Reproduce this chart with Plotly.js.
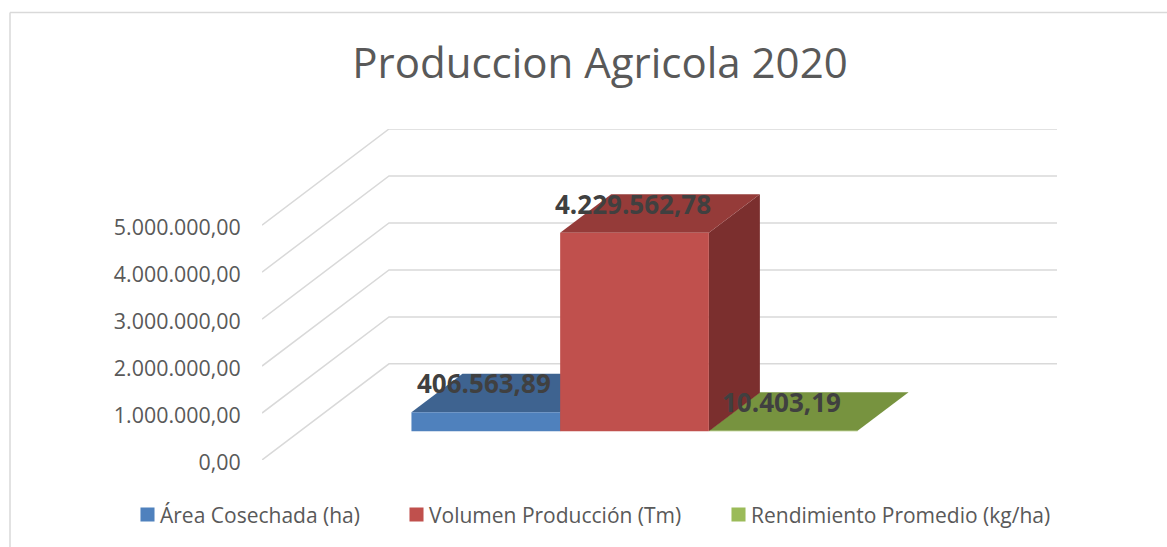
<!DOCTYPE html>
<html>
<head>
<meta charset="utf-8">
<script src="https://cdn.plot.ly/plotly-3.0.1.min.js"></script>
<style>html,body{margin:0;padding:0;background:#fff;overflow:hidden}#chart{width:1167px;height:547px}</style>
</head>
<body>
<div id="chart"></div>
<script>
const seriesNames = ['Área Cosechada (ha)', 'Volumen Producción (Tm)', 'Rendimiento Promedio (kg/ha)'];
const seriesValues = [406563.89, 4229562.78, 10403.19];
const valueLabels = ['406.563,89', '4.229.562,78', '10.403,19'];
const tickValues = [0, 1000000, 2000000, 3000000, 4000000, 5000000];
const tickLabels = ['0,00', '1.000.000,00', '2.000.000,00', '3.000.000,00', '4.000.000,00', '5.000.000,00'];
const frontColors = ['#4f81bd', '#c0504d', '#9bbb59'];
const topColors = ['#3e6390', '#953b39', '#77933f'];
const sideColors = ['#2f4b6e', '#7b2f2e', '#5b7030'];
const legendKeys = ['legend', 'legend2', 'legend3'];
const legendLeft = [120, 389, 711];

// oblique projection settings, in axis units
const xMax = 5.346, yMax = 7047000;
const wallDX = 0.854, wallDY = 2047000;   // depth of the floor
const barStart = 1.005, barDX = 0.343, barDY = 819000, barBase = 611000;
const labelLift = 617000;
const axisOpts = {range: [0, xMax], visible: false, fixedrange: true};

const traces = [];
const grid = {type: 'scatter', mode: 'lines', hoverinfo: 'skip', showlegend: false,
  line: {color: '#d9d9d9', width: 1.5}, xaxis: 'x', yaxis: 'y'};
tickValues.forEach(v => {
  traces.push(Object.assign({}, grid, {
    x: [0, wallDX, xMax], y: [v, v + wallDY, v + wallDY]
  }));
});

function poly(xs, ys, color) {
  return {type: 'scatter', mode: 'lines', x: xs.concat(xs[0]), y: ys.concat(ys[0]), fill: 'toself',
    fillcolor: color, line: {width: 0, color: color}, hoverinfo: 'skip', showlegend: false, xaxis: 'x', yaxis: 'y'};
}
// tops and sides, in back-to-front order
[0, 2, 1].forEach(i => {
  const x0 = barStart + i, x1 = x0 + 1, v = barBase + seriesValues[i];
  traces.push(poly([x1, x1 + barDX, x1 + barDX, x1], [barBase, barBase + barDY, v + barDY, v], sideColors[i]));
  traces.push(poly([x0, x1, x1 + barDX, x0 + barDX], [v, v, v + barDY, v + barDY], topColors[i]));
});
// front faces on an overlay so that they sit above tops of neighbours
seriesNames.forEach((name, i) => {
  traces.push({type: 'bar', name: name, legend: legendKeys[i], x: [barStart + i + 0.5], y: [seriesValues[i]], base: [barBase], width: [1],
    marker: {color: frontColors[i], line: {width: 0}}, hoverinfo: 'skip', xaxis: 'x2', yaxis: 'y2'});
});

const PW = 795, PH = 331.2, L = 262, T = 128.5;
const px = v => (v - L) / PW, py = v => 1 - (v - T) / PH;
const layout = {
  width: 1167, height: 547,
  margin: {l: L, r: 1167 - L - PW, t: T, b: 547 - T - PH, pad: 0},
  paper_bgcolor: '#fff', plot_bgcolor: 'rgba(0,0,0,0)',
  font: {family: '"Open Sans", sans-serif', color: '#595959'},
  title: {text: 'Produccion Agricola 2020', font: {size: 42, color: '#595959'},
    x: 600 / 1167, xanchor: 'center', xref: 'container', y: 1 - 63 / 547, yanchor: 'middle', yref: 'container'},
  barmode: 'overlay',
  xaxis: axisOpts,
  yaxis: {range: [0, yMax], fixedrange: true, showgrid: false, zeroline: false, showline: false,
    tickmode: 'array', tickvals: tickValues, ticktext: tickLabels, ticklabelshift: 2,
    ticks: 'outside', ticklen: 16, tickcolor: 'rgba(0,0,0,0)', tickfont: {size: 21.4, color: '#595959'}},
  xaxis2: Object.assign({}, axisOpts, {overlaying: 'x', anchor: 'y2'}),
  yaxis2: {range: [0, yMax], visible: false, fixedrange: true, overlaying: 'y', anchor: 'x2'},
  showlegend: true,
  annotations: seriesValues.map((v, i) => ({
    x: barStart + i + 0.5, y: barBase + v + labelLift, xref: 'x', yref: 'y', text: valueLabels[i],
    showarrow: false, xanchor: 'center', yanchor: 'middle', xshift: -1.5,
    font: {size: 26, color: '#404040', weight: 'bold', family: '"Open Sans", sans-serif'}
  })),
  shapes: [
    {type: 'line', xref: 'paper', yref: 'paper', x0: px(10), x1: px(10), y0: py(12), y1: py(547), line: {color: '#d9d9d9', width: 1.5}},
    {type: 'line', xref: 'paper', yref: 'paper', x0: px(10), x1: px(1167), y0: py(12), y1: py(12), line: {color: '#d9d9d9', width: 1.5}}
  ]
};
legendKeys.forEach((key, i) => {
  layout[key] = {orientation: 'h', x: px(legendLeft[i]), xanchor: 'left', y: py(514.5), yanchor: 'middle',
    font: {size: 21, color: '#595959'}, bgcolor: 'rgba(0,0,0,0)'};
});
Plotly.newPlot('chart', traces, layout, {displayModeBar: false, staticPlot: true}).then(gd => {
  // legend keys sit right next to their text, slightly larger than the default
  gd.querySelectorAll('g.legendpoints path').forEach(p => {
    const t = p.getAttribute('transform') || '';
    p.setAttribute('transform', 'translate(7.5,0) ' + t + ' scale(1.17)');
  });
});
</script>
</body>
</html>
